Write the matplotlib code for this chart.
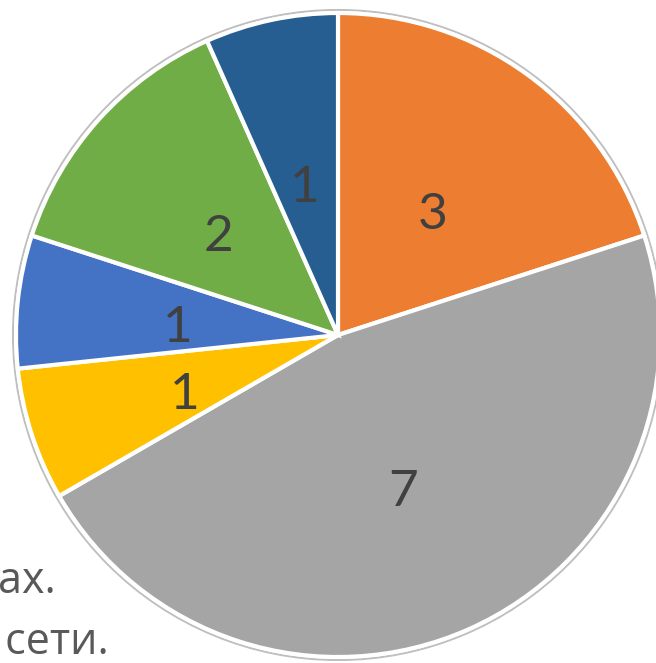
import matplotlib
matplotlib.use("Agg")
import matplotlib.pyplot as plt
from matplotlib.patches import Circle

values = [3, 7, 1, 1, 2, 1]
colors = ["#ED7D31", "#A5A5A5", "#FFC000", "#4472C4", "#70AD47", "#265E92"]
labels = [str(v) for v in values]
side_texts = ["ах.", " сети."]

W, H = 656, 663
fig = plt.figure(figsize=(W / 100, H / 100), dpi=100)
ax = fig.add_axes([0, 0, 1, 1])
ax.set_xlim(0, W)
ax.set_ylim(0, H)
ax.set_aspect("equal")
ax.axis("off")

cx, cy, R = 338, H - 335, 322

# background text partially hidden by the pie
ax.text(-2, H - 593, side_texts[0], fontsize=31, color="#595959",
        family=["Open Sans", "DejaVu Sans"], ha="left", va="baseline", zorder=0)
ax.text(-6, H - 654, side_texts[1], fontsize=31, color="#595959",
        family=["Open Sans", "DejaVu Sans"], ha="left", va="baseline", zorder=0)

# outer thin gray ring
ax.add_patch(Circle((cx, cy), R + 3, facecolor="white", edgecolor="#BFBFBF",
                    lw=1.5, zorder=1))

total = sum(values)
wedges, texts, autotexts = ax.pie(
    values, colors=colors, startangle=90, counterclock=False,
    center=(cx, cy), radius=R, frame=True,
    autopct=lambda p: f"{round(p * total / 100):d}", pctdistance=0.5,
    wedgeprops=dict(edgecolor="white", linewidth=3),
    textprops=dict(fontsize=37, color="#404040", family=["Lato", "DejaVu Sans"]),
)
for w in wedges:
    w.set_zorder(2)
for t in autotexts:
    x, y = t.get_position()
    t.set_position((x, y - 10))
    t.set_zorder(3)

ax.set_xlim(0, W)
ax.set_ylim(0, H)
ax.axis("off")
fig.savefig("out.png", dpi=100)
